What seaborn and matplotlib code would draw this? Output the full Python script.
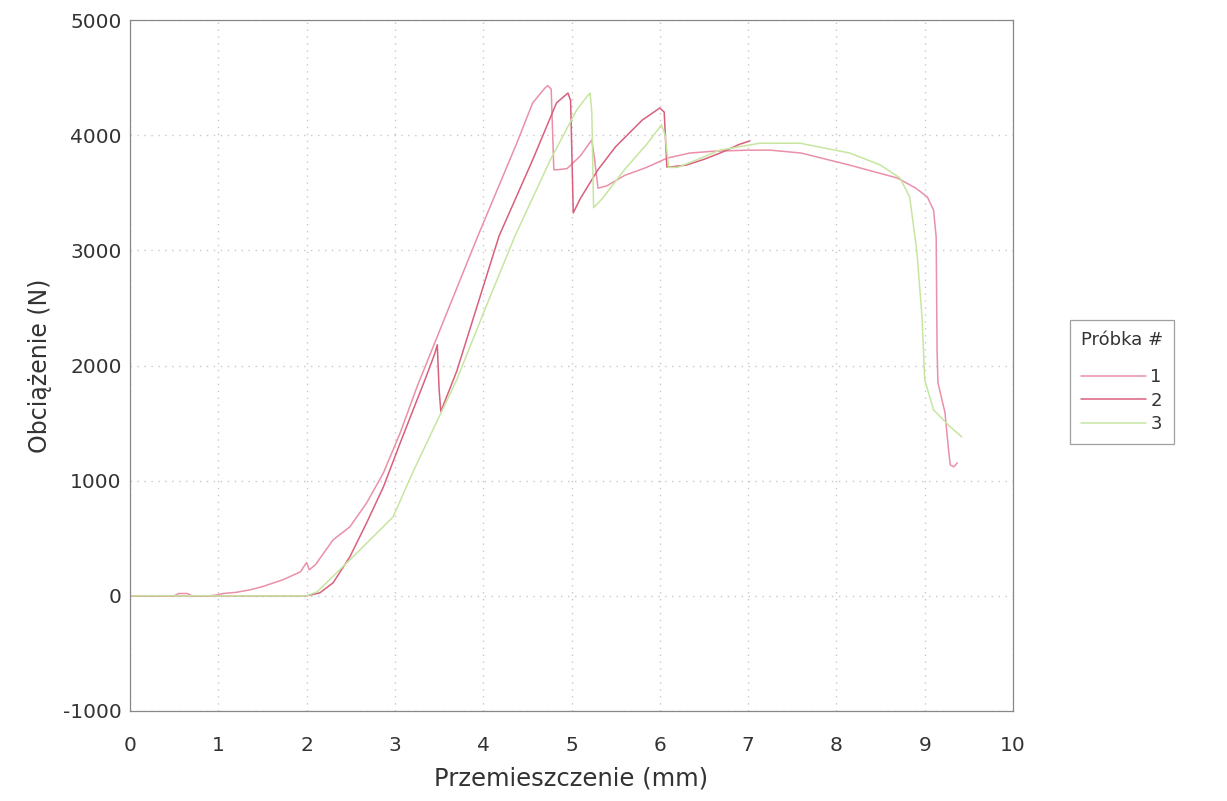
import matplotlib
matplotlib.use("Agg")
import matplotlib.pyplot as plt
import seaborn as sns
import pandas as pd
from matplotlib.ticker import MultipleLocator

# ---- data ----
x1 = [0, 0.5, 0.55, 0.65, 0.7, 0.9, 1.0, 1.05, 1.2, 1.36, 1.5, 1.73, 1.93, 2.0, 2.03, 2.1,
      2.3, 2.49, 2.68, 2.87, 3.06, 3.25, 3.6, 3.94, 4.38, 4.56, 4.7, 4.73, 4.77, 4.8, 4.85,
      4.95, 5.1, 5.23, 5.26, 5.3, 5.4, 5.6, 5.85, 6.08, 6.34, 6.6, 7.0, 7.25, 7.6, 8.15,
      8.69, 8.9, 9.03, 9.1, 9.13, 9.14, 9.15, 9.23, 9.27, 9.29, 9.33, 9.37]
y1 = [0, 0, 20, 20, 0, 0, 10, 20, 30, 52, 80, 139, 208, 290, 226, 270,
      486, 599, 807, 1068, 1415, 1814, 2480, 3125, 3930, 4280, 4410, 4430, 4400, 3700, 3700,
      3710, 3820, 3958, 3800, 3540, 3560, 3650, 3720, 3800, 3845, 3860, 3870, 3870, 3845, 3740,
      3628, 3540, 3463, 3350, 3116, 2135, 1850, 1590, 1267, 1137, 1120, 1155]

x2 = [0, 2.0, 2.15, 2.3, 2.49, 2.68, 2.87, 3.06, 3.25, 3.34, 3.45, 3.48, 3.5, 3.52, 3.7,
      4.18, 4.56, 4.83, 4.96, 4.99, 5.02, 5.1, 5.3, 5.5, 5.8, 6.0, 6.05, 6.08, 6.12, 6.3,
      6.5, 6.7, 6.9, 7.02]
y2 = [0, 0, 26, 113, 339, 634, 946, 1328, 1700, 1875, 2100, 2180, 1800, 1600, 1950,
      3125, 3785, 4280, 4366, 4300, 3325, 3450, 3700, 3900, 4130, 4236, 4200, 3724, 3724, 3740,
      3790, 3850, 3920, 3950]

x3 = [0, 2.0, 2.12, 2.3, 2.57, 2.98, 3.2, 3.43, 3.7, 4.0, 4.36, 4.76, 5.06, 5.18, 5.21,
      5.23, 5.25, 5.35, 5.6, 5.85, 6.02, 6.06, 6.1, 6.2, 6.4, 6.68, 7.13, 7.59, 8.15, 8.5,
      8.72, 8.83, 8.91, 8.97, 9.0, 9.1, 9.29, 9.42]
y3 = [0, 0, 35, 170, 373, 686, 1068, 1441, 1875, 2450, 3125, 3785, 4220, 4340, 4366,
      4200, 3370, 3450, 3700, 3920, 4090, 4000, 3720, 3720, 3780, 3870, 3930, 3930, 3845, 3740,
      3628, 3463, 3000, 2420, 1875, 1615, 1467, 1380]

samples = ["1", "2", "3"]
colors = {"1": "#ea90a8", "2": "#d8607e", "3": "#c6e6a0"}

frames = []
for s, xs, ys in zip(samples, [x1, x2, x3], [y1, y2, y3]):
    frames.append(pd.DataFrame({"x": xs, "y": ys, "Próbka #": s}))
df = pd.concat(frames, ignore_index=True)

sns.set_style("white")
plt.rcParams["font.family"] = ["DejaVu Sans"]
plt.rcParams["axes.unicode_minus"] = False

fig = plt.figure(figsize=(12.27, 8.01), dpi=100)
ax = fig.add_axes([130 / 1227, (801 - 711) / 801, 883 / 1227, 691 / 801])

sns.lineplot(data=df, x="x", y="y", hue="Próbka #", palette=colors, sort=False,
             estimator=None, units="Próbka #", linewidth=1.1, ax=ax, legend=False)

ax.set_xlim(0, 10)
ax.set_ylim(-1000, 5000)
ax.xaxis.set_major_locator(MultipleLocator(1))
ax.xaxis.set_minor_locator(MultipleLocator(0.5))
ax.yaxis.set_major_locator(MultipleLocator(1000))
ax.yaxis.set_minor_locator(MultipleLocator(500))
ax.tick_params(which="both", direction="in", length=6, width=0.8, color="#666666",
               labelsize=14.5, labelcolor="#333333")
ax.tick_params(axis="x", which="both", pad=18)
ax.tick_params(axis="y", which="both", pad=6)
ax.grid(True, which="major", linestyle=(0, (1, 4)), color="#c8c8c8", linewidth=1)
for sp in ax.spines.values():
    sp.set_color("#888888")
    sp.set_linewidth(0.9)

ax.set_xlabel("Przemieszczenie (mm)", fontsize=17.5, color="#333333", labelpad=8)
ax.set_ylabel("Obciążenie (N)", fontsize=17, color="#333333", labelpad=8)

handles = [plt.Line2D([], [], color=colors[s], linewidth=1.1) for s in samples]
leg = fig.legend(handles, samples, title="Próbka #", loc="upper left",
                 bbox_to_anchor=(1070 / 1227, 1 - 320 / 801), frameon=True,
                 fancybox=False, edgecolor="#888888", fontsize=13, title_fontsize=13,
                 handlelength=3.6, handletextpad=0.25, labelspacing=0.3,
                 borderpad=0.6, borderaxespad=0, alignment="left")
leg._legend_box.sep = 14
leg.get_frame().set_linewidth(0.9)
for t in leg.get_texts():
    t.set_color("#333333")
leg.get_title().set_color("#333333")

fig.savefig("out.png", dpi=100, facecolor="white")
